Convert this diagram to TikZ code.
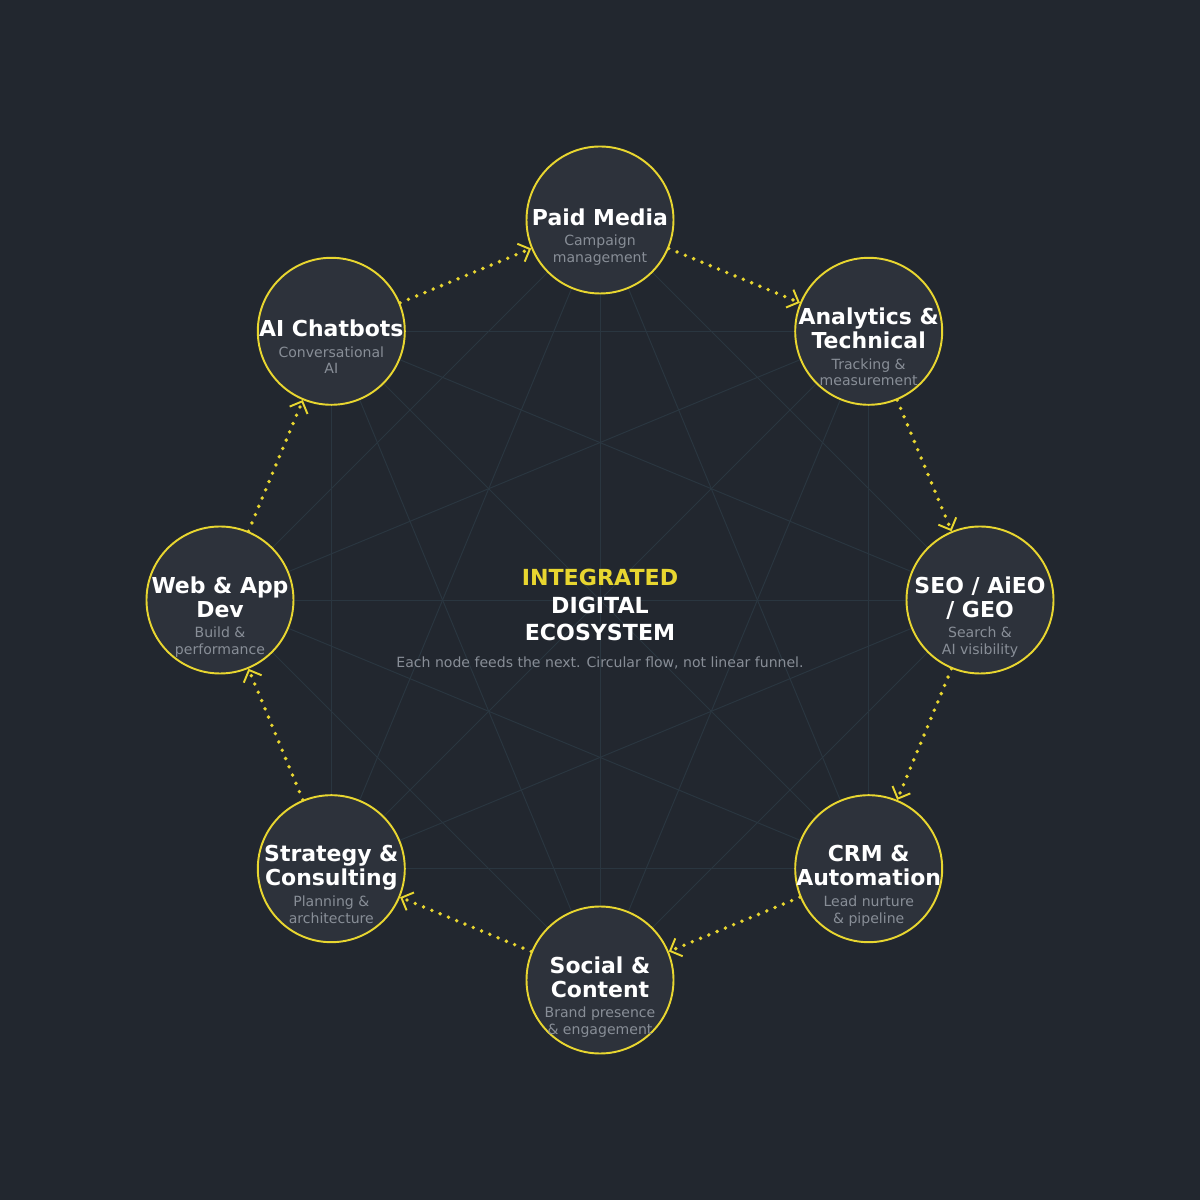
\documentclass[tikz,border=0pt]{standalone}
\usepackage{fontspec}
\setmainfont{DejaVu Sans}
\usetikzlibrary{positioning,arrows.meta,backgrounds}
\definecolor{eco-bg}{HTML}{22272F}
\definecolor{eco-disc}{HTML}{2D323B}
\definecolor{eco-yellow}{HTML}{E8D630}
\definecolor{eco-mesh}{HTML}{2A3640}
\definecolor{eco-grey}{HTML}{888E97}
\tikzset{
    ring-node/.style = {circle, draw=eco-yellow, fill=eco-disc, line width=1.1pt, minimum size=2.94cm, inner sep=0pt},
    ring-title/.style = {align=center, text=white, font=\fontsize{12.5}{13.6}\selectfont\bfseries, inner sep=0pt, text depth=0pt, yshift=0.06cm},
    ring-sub/.style = {align=center, text=eco-grey, font=\fontsize{8}{9.6}\selectfont, inner sep=0pt, anchor=base},
    mesh-line/.style = {draw=eco-mesh, line width=0.55pt},
    flow-arrow/.style = {draw=eco-yellow, line width=2.2pt, line cap=round, dash pattern=on 0pt off 5.1pt, -{Straight Barb[length=5.5pt, width=11pt, line width=1.1pt]}},
    eco-heading/.style = {align=center, text=white, font=\fontsize{12.6}{15.9}\selectfont\bfseries, inner sep=0pt},
    eco-note/.style = {text=eco-grey, font=\fontsize{8}{9.6}\selectfont, inner sep=0pt, anchor=base},
}

\begin{document}
\begin{tikzpicture}
\useasboundingbox (-12,-12) rectangle (12,12);

% ring of services
\node[ring-node] (paid) at (90:7.6) {};
\node[ring-node] (analytics) at (45:7.6) {};
\node[ring-node] (seo) at (0:7.6) {};
\node[ring-node] (crm) at (-45:7.6) {};
\node[ring-node] (social) at (-90:7.6) {};
\node[ring-node] (strategy) at (-135:7.6) {};
\node[ring-node] (webdev) at (180:7.6) {};
\node[ring-node] (chatbots) at (135:7.6) {};

\node[ring-title] (paid-title) at (paid) {Paid Media};
\node[below=0.74cm of paid-title.south, ring-sub] (paid-sub) {Campaign\\management};
\node[ring-title] (analytics-title) at (analytics) {Analytics \&\\Technical};
\node[below=0.74cm of analytics-title.south, ring-sub] (analytics-sub) {Tracking \&\\measurement};
\node[ring-title] (seo-title) at (seo) {SEO / AiEO\\/ GEO};
\node[below=0.74cm of seo-title.south, ring-sub] (seo-sub) {Search \&\\AI visibility};
\node[ring-title] (crm-title) at (crm) {CRM \&\\Automation};
\node[below=0.74cm of crm-title.south, ring-sub] (crm-sub) {Lead nurture\\\& pipeline};
\node[ring-title] (social-title) at (social) {Social \&\\Content};
\node[below=0.74cm of social-title.south, ring-sub] (social-sub) {Brand presence\\\& engagement};
\node[ring-title] (strategy-title) at (strategy) {Strategy \&\\Consulting};
\node[below=0.74cm of strategy-title.south, ring-sub] (strategy-sub) {Planning \&\\architecture};
\node[ring-title] (webdev-title) at (webdev) {Web \& App\\Dev};
\node[below=0.74cm of webdev-title.south, ring-sub] (webdev-sub) {Build \&\\performance};
\node[ring-title] (chatbots-title) at (chatbots) {AI Chatbots};
\node[below=0.74cm of chatbots-title.south, ring-sub] (chatbots-sub) {Conversational\\AI};

% centre text
\node[eco-heading] (heading) at (0,-0.1) {{\color{eco-yellow}INTEGRATED}\\DIGITAL\\ECOSYSTEM};
\node[eco-note] (note) at (0,-1.36) {Each node feeds the next. Circular flow, not linear funnel.};

% clockwise flow
\draw[flow-arrow] (paid) -- (analytics);
\draw[flow-arrow] (analytics) -- (seo);
\draw[flow-arrow] (seo) -- (crm);
\draw[flow-arrow] (crm) -- (social);
\draw[flow-arrow] (social) -- (strategy);
\draw[flow-arrow] (strategy) -- (webdev);
\draw[flow-arrow] (webdev) -- (chatbots);
\draw[flow-arrow] (chatbots) -- (paid);

% faint mesh behind everything
\begin{scope}[on background layer]
\fill[eco-bg] (-12,-12) rectangle (12,12);
\foreach \a/\b in {paid/seo, paid/crm, paid/social, paid/strategy, paid/webdev,
    analytics/crm, analytics/social, analytics/strategy, analytics/webdev, analytics/chatbots,
    seo/social, seo/strategy, seo/webdev, seo/chatbots,
    crm/strategy, crm/webdev, crm/chatbots,
    social/webdev, social/chatbots, strategy/chatbots}
    \draw[mesh-line] (\a.center) -- (\b.center);
\end{scope}
\end{tikzpicture}
\end{document}
